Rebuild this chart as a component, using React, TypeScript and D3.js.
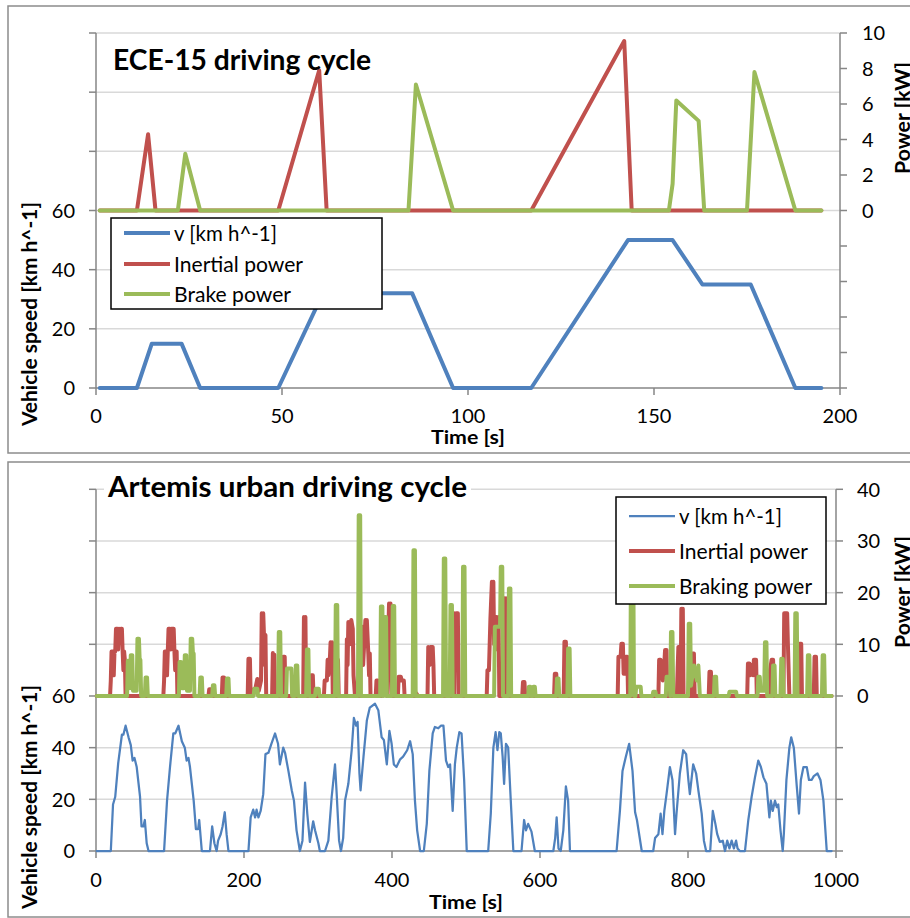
import React from "react";
import * as d3 from "d3";

type Pt = [number, number];

// ---------- ECE-15 driving cycle ----------
const eceSpeed: Pt[] = [
  [1, 0], [11, 0], [15, 15], [23, 15], [28, 0], [49, 0], [61, 32], [85, 32], [96, 0],
  [117, 0], [143, 50], [155, 50], [163, 35], [176, 35], [188, 0], [195, 0],
];
const eceInertial: Pt[] = [
  [1, 0], [11, 0], [14, 4.3], [16, 0], [49, 0], [60, 7.9], [62, 0], [117, 0], [142, 9.55], [144, 0], [195, 0],
];
const eceBrake: Pt[] = [
  [1, 0], [22, 0], [24, 3.2], [28, 0], [84, 0], [86, 7.1], [96, 0], [154, 0], [155, 1.5], [156, 6.2],
  [162, 5.05], [163.5, 0], [175, 0], [177, 7.8], [188, 0], [195, 0],
];
const eceXTicks = [0, 50, 100, 150, 200];
const eceLeftTicks = [0, 20, 40, 60, 80, 100, 120];
const eceLeftLabels = [0, 20, 40, 60];
const eceRightTicks = [-10, -8, -6, -4, -2, 0, 2, 4, 6, 8, 10];
const eceRightLabels = [0, 2, 4, 6, 8, 10];
const eceNames = ["v [km h^-1]", "Inertial power", "Brake power"];

// ---------- Artemis urban driving cycle ----------
const artSpeed: Pt[] = [
  [1, 0], [20, 0], [23, 18], [26, 21], [30, 34], [35, 45], [37, 45], [40, 48.5], [44, 44], [47, 41], [49.5, 35], [52, 36], [55, 32.5], [59.5, 21], [61.5, 9.5], [64, 9.5], [66, 12], [68.5, 3], [71, 0],
  [92, 0], [96, 19.5], [100, 32.5], [104.5, 45.5], [107, 45.5], [111.5, 48.5], [116, 42.5], [120, 40], [122.5, 35], [125, 36], [127, 32.5], [132, 19.5], [135, 8.5], [138, 8.5], [139.5, 12], [143, 0],
  [154, 0], [157, 9.5], [160, 3], [163, 0], [165, 4], [168.5, 6.5], [171, 9.5], [174, 15], [176.5, 6.5], [179, 0],
  [206, 0], [209, 13], [212.5, 16], [215, 13], [217, 16], [219.5, 13], [222.5, 15.5], [226, 22], [229, 37.5], [233, 38], [237, 41.5], [242, 45.5], [246, 41.5], [248.5, 33.5], [253, 40], [255.5, 38], [260, 31], [264.5, 23.5], [267.5, 19.5], [271, 8], [275.5, 0], [279, 4], [282.5, 26.5], [285.5, 14.5], [289, 3.5], [293.5, 11.5], [296, 8], [300.5, 3], [302.5, 0],
  [309.5, 0], [314, 4], [318.5, 21], [323, 33.5], [325, 23.5], [328.5, 4], [331, 0], [334, 5], [336.5, 19.5], [341, 26], [345.5, 39], [348.5, 51.5], [351.5, 48.5], [353.5, 50], [356, 30], [357.5, 23.5], [361.5, 36.5], [366, 50.5], [370, 55.5], [377, 57], [381.5, 54.5], [386, 44], [389, 43], [393, 33.5], [396.5, 46.5], [399.5, 41.5], [402.5, 33.5], [406, 32.5], [411, 35.5], [415, 36.5], [420.5, 39], [424.5, 42.5], [428, 37.5], [431, 19.5], [434, 8], [438, 0],
  [443, 0], [447, 10.5], [450.5, 31], [455, 45.5], [458, 48], [462.5, 47.5], [466, 48.5], [469.5, 48.5], [473, 35], [476, 32.5], [478.5, 33.5], [482, 15.5], [485, 33.5], [487.5, 40], [491, 46], [494, 45.5], [497.5, 27.5], [501, 0],
  [530, 0], [533.5, 14.5], [537, 40], [540, 46], [542.5, 39], [545, 46], [547, 45.5], [549.5, 36.5], [551.5, 26], [554, 41.5], [557, 40], [560.5, 19.5], [564, 0],
  [575, 0], [578.5, 12], [581, 8], [584, 10.5], [588.5, 7.5], [593, 0],
  [618, 0], [620.5, 5], [622.5, 13], [625, 1], [628, 0], [631.5, 8], [635, 25], [638, 19.5], [640.5, 0],
  [703.5, 0], [708, 15.5], [711.5, 31], [716, 36.5], [720.5, 41.5], [725, 31], [728.5, 15], [731, 12], [737.5, 0],
  [753, 0], [755.5, 5], [760, 6.5], [763, 14.5], [765.5, 6.5], [768, 15.5], [771, 22], [775.5, 32.5], [779, 27.5], [782.5, 6.5], [784.5, 14.5], [789, 30], [793.5, 39], [797.5, 37.5], [800.5, 27.5], [802.5, 22], [807, 33.5], [811, 30], [814, 23.5], [818.5, 14.5], [821.5, 4], [824.5, 0],
  [830, 0], [833.5, 15.5], [837, 10.5], [839.5, 6.5], [843, 3.5], [847, 4], [850, 0], [853, 4], [856, 1], [859, 4], [862, 1], [865, 4], [867, 1], [870, 0],
  [877, 0], [881.5, 12], [886, 21], [890.5, 28.5], [895, 35], [898.5, 32.5], [902, 28.5], [906, 26], [910, 13], [912, 19.5], [914.5, 15.5], [917.5, 19.5], [920, 17], [922, 18], [925, 8], [928, 0], [929.5, 6.5], [933, 27.5], [937, 40], [939.5, 44], [943, 40], [947, 25], [950, 14.5], [952.5, 27.5], [956, 32.5], [960.5, 32.5], [963.5, 27.5], [967, 27.5], [970, 29], [975, 30], [979, 27.5], [983, 19.5], [987.5, 0], [994, 0],
];
const artInertial: Pt[] = [
  [1, 0], [19, 0], [20, 3], [21, 8.6], [23, 8.6], [24, 4], [25, 8.6], [26, 8.6], [27, 13], [29, 13], [30, 9], [31, 13], [33, 12.5], [34, 13], [35, 13], [36, 8.6], [37, 5], [38, 8.6], [39, 7], [40, 0],
  [91, 0], [92, 3], [93, 8.6], [95, 8.6], [96, 4], [97, 8.6], [98, 13], [100, 13], [101, 9], [102, 13], [105, 13], [106, 8.6], [107, 5], [108, 8.6], [109, 8.6], [110, 0],
  [152, 0], [153, 1.3], [155, 1.3], [156, 0], [170, 0], [171, 3.6], [173, 3.6], [174, 0],
  [205, 0], [206, 7.2], [208, 7.2], [209, 0], [212, 1.2], [215, 1.2], [218, 3.3], [220, 1], [223, 3], [224, 16], [225, 9], [226, 16], [227, 11.8], [228, 6], [229, 11.8], [230, 0],
  [238, 0], [239, 8.3], [240, 5], [241, 8], [242, 0], [252, 0], [253, 7.6], [255, 7.6], [256, 0],
  [280, 0], [281, 15.3], [282, 9], [283, 15.3], [284, 0], [290, 0], [291, 4], [293, 4], [294, 0],
  [308, 0], [309, 3], [312, 3], [313, 7], [314, 4], [316, 7], [317, 10.4], [318, 6], [319, 10.4], [320, 0], [326, 0], [327, 7], [328, 0],
  [338, 0], [339, 11], [340, 6], [341, 14.3], [343, 10], [345, 14.7], [347, 13], [348, 4], [350, 0],
  [357, 0], [358, 13.4], [359, 8], [360, 13.4], [361, 6], [364, 14.7], [365, 10], [366, 14.7], [368, 8.2], [369, 4], [370, 8.2], [371, 0],
  [378, 0], [379, 3], [381, 3], [383, 0], [386, 0], [387, 15.3], [388, 9], [389, 15.3], [390, 4], [392, 4], [393, 0],
  [394, 0], [395, 12], [396, 17.9], [397, 11], [398, 17.9], [399, 8], [400, 0],
  [408, 0], [409, 3.7], [412, 3.7], [413, 3], [416, 3], [417, 0], [432, 0], [433, 0.5], [435, 0],
  [448, 0], [449, 9.5], [451, 6], [452, 9.5], [455, 9.5], [456, 6], [457, 0], [472, 0], [473, 3], [475, 3], [476, 0],
  [484, 0], [485, 16], [486, 10], [487, 16], [489, 16], [490, 0],
  [528, 0], [529, 5], [531, 5], [533, 15], [535, 22.1], [536, 16], [537, 22.1], [538, 10], [541, 15.3], [542, 9], [544, 15.3], [545, 0],
  [551, 0], [552, 18.9], [553, 12], [554, 18.9], [555, 0], [576, 0], [577, 2.7], [579, 2.7], [580, 0],
  [619, 0], [620, 4.3], [622, 4.3], [623, 0], [632, 0], [633, 10.5], [635, 10.5], [636, 0],
  [705, 0], [706, 7.6], [709, 7.6], [710, 10.1], [712, 10.1], [713, 4.3], [715, 4.3], [716, 7.6], [718, 7.6], [719, 0],
  [760, 0], [761, 7], [763, 7], [764, 6.3], [766, 3], [768, 6.3], [769, 8.9], [771, 8.9], [772, 0],
  [785, 0], [786, 5.3], [787, 9.5], [789, 9.5], [790, 0], [791, 16.9], [792, 11], [793, 16.9], [794, 0],
  [805, 0], [806, 8.2], [808, 8.2], [809, 0], [828, 0], [829, 4.7], [831, 4.7], [832, 0],
  [880, 0], [881, 6.3], [883, 6.3], [884, 4], [886, 6], [888, 4], [889, 7], [892, 7], [893, 0],
  [910, 0], [911, 5], [913, 7], [915, 7], [916, 0],
  [929, 0], [930, 16], [931, 11], [932, 16], [934, 16], [935, 10], [937, 0], [950, 0], [951, 10.1], [953, 10.1], [954, 0],
  [970, 0], [971, 7.6], [973, 7.6], [974, 0], [994, 0],
];
const artBraking: Pt[] = [
  [1, 0], [42, 0], [43, 6.8], [45, 6.8], [46, 1.5], [47, 7.9], [49, 7.9], [50, 1], [55, 1], [56, 11.1], [58, 11.1], [59, 7], [60, 7], [61, 0],
  [66, 0], [67, 3.6], [69, 3.6], [70, 0],
  [112, 0], [113, 6.6], [115, 6.6], [116, 1.5], [119, 1.5], [120, 7.9], [122, 7.9], [123, 1], [127, 1], [128, 11.1], [130, 11.1], [131, 8.2], [132, 8.2], [133, 0],
  [140, 0], [141, 3.6], [143, 3.6], [144, 0], [157, 0], [158, 2.1], [160, 2.1], [161, 0], [176, 0], [177, 3.4], [179, 3.4], [180, 0],
  [213, 0], [214, 1.4], [218, 1.4], [219, 0], [246, 0], [247, 12.4], [249, 12.4], [250, 0],
  [257, 0], [258, 5.3], [264, 5.3], [265, 0], [269, 0], [270, 5.9], [272, 5.9], [273, 0],
  [284, 0], [285, 9], [287, 9], [288, 0], [296, 0], [297, 1.4], [301, 1.4], [302, 0],
  [323, 0], [324, 17.6], [326, 17.6], [327, 0], [354, 0], [355, 35], [357, 35], [358, 0],
  [384, 0], [385, 17.3], [387, 17.3], [388, 0], [389, 0], [390, 15.3], [392, 15.3], [393, 0],
  [400, 0], [401, 17.4], [403, 17.4], [404, 0], [428, 0], [429, 28.2], [431, 28.2], [432, 0],
  [469, 0], [470, 26.6], [472, 26.6], [473, 0], [478, 0], [479, 17.6], [481, 17.6], [482, 0],
  [495, 0], [496, 25], [498, 25], [499, 0],
  [538, 0], [539, 13.4], [546, 13.4], [547, 25], [549, 25], [550, 0], [557, 0], [558, 20.8], [560, 20.8], [561, 0],
  [584, 0], [585, 1.8], [587, 1.8], [588, 0], [590, 0], [591, 1.8], [593, 1.8], [594, 0],
  [622, 0], [623, 3.4], [625, 3.4], [626, 0], [637, 0], [638, 9.2], [640, 9.2], [641, 0],
  [722, 0], [723, 28], [726, 28], [727, 0], [729, 0], [730, 1.8], [736, 1.8], [737, 0],
  [752, 0], [753, 0.8], [756, 0.8], [757, 0],
  [770, 0], [771, 3.7], [775, 3.7], [776, 0], [777, 12.4], [779, 12.4], [780, 0],
  [800, 0], [801, 14], [803, 14], [804, 2], [808, 5.9], [812, 3], [814, 5.9], [816, 0],
  [835, 0], [836, 3.7], [838, 3.7], [839, 0], [855, 0], [856, 0.8], [865, 0.8], [866, 0],
  [894, 0], [895, 3.7], [897, 3.7], [898, 1], [903, 1], [904, 10.4], [906, 10.4], [907, 0],
  [914, 0], [915, 5.9], [917, 5.9], [918, 0], [925, 0], [926, 7.2], [928, 7.2], [929, 0],
  [944, 0], [945, 16], [947, 16], [948, 0], [961, 0], [962, 7.9], [964, 7.9], [965, 0],
  [981, 0], [982, 7.9], [984, 7.9], [985, 0], [994, 0],
];
const artXTicks = [0, 200, 400, 600, 800, 1000];
const artLeftTicks = [0, 20, 40, 60, 80, 100, 120, 140];
const artLeftLabels = [0, 20, 40, 60];
const artRightTicks = [-30, -20, -10, 0, 10, 20, 30, 40];
const artRightLabels = [0, 10, 20, 30, 40];
const artNames = ["v [km h^-1]", "Inertial power", "Braking power"];

const BLUE = "#4F81BD";
const RED = "#C0504D";
const GREEN = "#9BBB59";
const FONT = "Lato, 'Open Sans', sans-serif";
const AXIS = "#868686";
const GRID = "#D9D9D9";

type PanelProps = {
  frame: { x: number; y: number; w: number; h: number };
  left: number; right: number; top: number; bottom: number;
  xDomain: [number, number]; yLDomain: [number, number]; yRDomain: [number, number];
  xTicks: number[]; leftTicks: number[]; leftLabels: number[]; rightTicks: number[]; rightLabels: number[];
  speed: Pt[]; inertial: Pt[]; brake: Pt[]; names: string[];
  speedWidth: number; powerWidth: number;
  title: string; titleX: number; titleY: number; titleLen: number; titleBg: boolean;
  legend: { x: number; y: number; w: number; h: number; rows: number[]; lens: number[] };
  xLabelY: number; xTitleX: number; xTitleY: number; yTitleY: number; pTitleY: number;
  rightLabelX: number;
};

function Panel(p: PanelProps) {
  const x = d3.scaleLinear().domain(p.xDomain).range([p.left, p.right]);
  const yL = d3.scaleLinear().domain(p.yLDomain).range([p.bottom, p.top]);
  const yR = d3.scaleLinear().domain(p.yRDomain).range([p.bottom, p.top]);
  const lineL = d3.line<Pt>().x((d) => x(d[0])).y((d) => yL(d[1]));
  const lineR = d3.line<Pt>().x((d) => x(d[0])).y((d) => yR(d[1]));
  const colors = [BLUE, RED, GREEN];
  const widths = [p.speedWidth, p.powerWidth, p.powerWidth];
  const lg = p.legend;
  return (
    <g>
      <rect x={p.frame.x} y={p.frame.y} width={p.frame.w} height={p.frame.h} fill="#fff" stroke="#8C8C8C" strokeWidth={1.5} />
      {p.leftTicks.filter((t) => t > 0).map((t) => (
        <line key={"g" + t} x1={p.left} x2={p.right} y1={yL(t)} y2={yL(t)} stroke={GRID} strokeWidth={1.5} />
      ))}
      <line x1={p.left} x2={p.left} y1={p.top} y2={p.bottom} stroke={AXIS} strokeWidth={1.5} />
      <line x1={p.right} x2={p.right} y1={p.top} y2={p.bottom} stroke={AXIS} strokeWidth={1.5} />
      <line x1={p.left} x2={p.right} y1={p.bottom} y2={p.bottom} stroke={AXIS} strokeWidth={1.5} />
      {p.leftTicks.map((t) => (
        <line key={"lt" + t} x1={p.left - 7} x2={p.left} y1={yL(t)} y2={yL(t)} stroke={AXIS} strokeWidth={1.5} />
      ))}
      {p.rightTicks.map((t) => (
        <line key={"rt" + t} x1={p.right} x2={p.right + 7} y1={yR(t)} y2={yR(t)} stroke={AXIS} strokeWidth={1.5} />
      ))}
      {p.xTicks.map((t) => (
        <line key={"xt" + t} x1={x(t)} x2={x(t)} y1={p.bottom} y2={p.bottom + 7} stroke={AXIS} strokeWidth={1.5} />
      ))}
      <path d={lineL(p.speed) || ""} fill="none" stroke={BLUE} strokeWidth={p.speedWidth} strokeLinejoin="round" strokeLinecap="round" />
      <path d={lineR(p.inertial) || ""} fill="none" stroke={RED} strokeWidth={p.powerWidth} strokeLinejoin="round" strokeLinecap="round" />
      <path d={lineR(p.brake) || ""} fill="none" stroke={GREEN} strokeWidth={p.powerWidth} strokeLinejoin="round" strokeLinecap="round" />
      {p.leftLabels.map((t) => (
        <text key={"ll" + t} x={p.left - 21} y={yL(t)} dy="0.36em" textAnchor="end" fontFamily={FONT} fontSize={20} fill="#000">{t}</text>
      ))}
      {p.rightLabels.map((t) => (
        <text key={"rl" + t} x={p.rightLabelX} y={yR(t)} dy="0.36em" textAnchor="start" fontFamily={FONT} fontSize={20} fill="#000">{t}</text>
      ))}
      {p.xTicks.map((t) => (
        <text key={"xl" + t} x={x(t)} y={p.xLabelY} dy="0.36em" textAnchor="middle" fontFamily={FONT} fontSize={20} fill="#000">{t}</text>
      ))}
      <text x={p.xTitleX} y={p.xTitleY} textAnchor="middle" fontFamily={FONT} fontSize={18} fontWeight="bold" textLength={74} lengthAdjust="spacingAndGlyphs">Time [s]</text>
      <text transform={`translate(37,${p.yTitleY}) rotate(-90)`} textAnchor="middle" fontFamily={FONT} fontSize={20} fontWeight="bold" textLength={224} lengthAdjust="spacingAndGlyphs">Vehicle speed [km h^-1]</text>
      <text transform={`translate(910,${p.pTitleY}) rotate(-90)`} textAnchor="middle" fontFamily={FONT} fontSize={20} fontWeight="bold" textLength={112} lengthAdjust="spacingAndGlyphs">Power [kW]</text>
      <rect x={lg.x} y={lg.y} width={lg.w} height={lg.h} fill="#fff" stroke="#000" strokeWidth={1.5} />
      {p.names.map((n, i) => (
        <g key={n}>
          <line x1={lg.x + 13} x2={lg.x + 59} y1={lg.rows[i]} y2={lg.rows[i]} stroke={colors[i]} strokeWidth={widths[i]} />
          <text x={lg.x + 63} y={lg.rows[i]} dy="0.36em" fontFamily={FONT} fontSize={21} fill="#000" textLength={lg.lens[i]} lengthAdjust="spacingAndGlyphs">{n}</text>
        </g>
      ))}
      {p.titleBg && <rect x={p.titleX - 4} y={p.titleY - 24} width={p.titleLen + 8} height={30} fill="#fff" />}
      <text x={p.titleX} y={p.titleY} fontFamily={FONT} fontSize={28} fontWeight="bold" fill="#000" textLength={p.titleLen} lengthAdjust="spacingAndGlyphs">{p.title}</text>
    </g>
  );
}

export default function App() {
  return (
    <svg width={910} height={918} style={{ position: "absolute", left: 0, top: 0, background: "#fff" }}>
      <rect x={0} y={0} width={910} height={918} fill="#fff" />
      <Panel
        frame={{ x: 8, y: 6, w: 910, h: 447 }}
        left={96} right={840} top={33} bottom={388}
        xDomain={[0, 200]} yLDomain={[0, 120]} yRDomain={[-10, 10]}
        xTicks={eceXTicks} leftTicks={eceLeftTicks} leftLabels={eceLeftLabels}
        rightTicks={eceRightTicks} rightLabels={eceRightLabels}
        speed={eceSpeed} inertial={eceInertial} brake={eceBrake} names={eceNames}
        speedWidth={4} powerWidth={4}
        title="ECE-15 driving cycle" titleX={113} titleY={70} titleLen={258} titleBg={false}
        legend={{ x: 111, y: 218, w: 271, h: 91, rows: [233, 264, 294], lens: [103, 129, 117] }}
        xLabelY={416} xTitleX={468} xTitleY={444} yTitleY={314} pTitleY={118}
        rightLabelX={862}
      />
      <Panel
        frame={{ x: 8, y: 462, w: 910, h: 455 }}
        left={96} right={836} top={489.3} bottom={851}
        xDomain={[0, 1000]} yLDomain={[0, 140]} yRDomain={[-30, 40]}
        xTicks={artXTicks} leftTicks={artLeftTicks} leftLabels={artLeftLabels}
        rightTicks={artRightTicks} rightLabels={artRightLabels}
        speed={artSpeed} inertial={artInertial} brake={artBraking} names={artNames}
        speedWidth={2.25} powerWidth={4}
        title="Artemis urban driving cycle" titleX={108} titleY={497} titleLen={359} titleBg={true}
        legend={{ x: 616, y: 497, w: 210, h: 107, rows: [516, 551, 586], lens: [103, 129, 133] }}
        xLabelY={880} xTitleX={466} xTitleY={909} yTitleY={797} pTitleY={592}
        rightLabelX={857}
      />
    </svg>
  );
}
